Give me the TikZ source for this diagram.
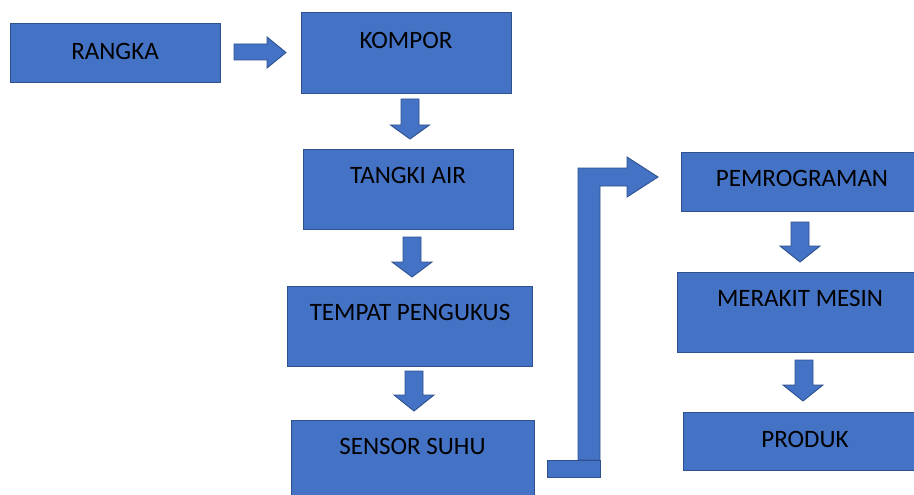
\documentclass[tikz,border=0pt]{standalone}
\usepackage{fontspec}
\setmainfont{Carlito}
\definecolor{boxfill}{HTML}{4472C4}
\definecolor{boxline}{HTML}{2F528F}
\begin{document}
\begin{tikzpicture}[x=1pt,y=-1pt,
  box/.style={draw=boxline,fill=boxfill,line width=0.9pt,rectangle,inner sep=0pt,outer sep=0pt},
  lbl/.style={inner sep=0pt,outer sep=0pt,text=black,font=\fontsize{25}{29}\selectfont},
  blockarrow/.style={draw=boxline,fill=boxfill,line width=0.9pt,line join=miter}]
\useasboundingbox (0,0) rectangle (914,495);
\clip (0,0) rectangle (914,495);
\fill[white] (0,0) rectangle (914,495);
% boxes
\node[box,minimum width=210,minimum height=59] (rangka) at (115,52.5) {};
\node[lbl] (trangka) at (115,51) {RANGKA};
\node[box,minimum width=210,minimum height=81] (kompor) at (406,52.5) {};
\node[lbl] (tkompor) at (406,40) {KOMPOR};
\node[box,minimum width=210,minimum height=80] (tangki) at (408,189) {};
\node[lbl] (ttangki) at (408,175.5) {TANGKI AIR};
\node[box,minimum width=245,minimum height=80] (tempat) at (409.5,326) {};
\node[lbl] (ttempat) at (410,312.5) {TEMPAT PENGUKUS};
\node[box,minimum width=243,minimum height=90] (sensor) at (412.5,465) {};
\node[lbl] (tsensor) at (412.5,446) {SENSOR SUHU};
\node[box,minimum width=250,minimum height=59] (pemrog) at (806,181.5) {};
\node[lbl] (tpemrog) at (802,178) {PEMROGRAMAN};
\node[box,minimum width=254,minimum height=80] (merakit) at (804,312) {};
\node[lbl] (tmerakit) at (800,298) {MERAKIT MESIN};
\node[box,minimum width=248,minimum height=58] (produk) at (807,441) {};
\node[lbl] (tproduk) at (805,439) {PRODUK};
% right arrow RANGKA -> KOMPOR
\draw[blockarrow] (234,44) -- (267,44) -- (267,37) -- (286,52.5) -- (267,68) -- (267,60) -- (234,60) -- cycle;
% down arrows
\draw[blockarrow] (401,99) -- (419,99) -- (419,125) -- (429.5,125) -- (410,139) -- (390.5,125) -- (401,125) -- cycle;
\draw[blockarrow] (403,237) -- (421,237) -- (421,262) -- (432,262) -- (412,277) -- (392,262) -- (403,262) -- cycle;
\draw[blockarrow] (405,371) -- (423,371) -- (423,395) -- (434,395) -- (414,411) -- (394,395) -- (405,395) -- cycle;
\draw[blockarrow] (791,222) -- (809,222) -- (809,246) -- (820,246) -- (800,262) -- (780,246) -- (791,246) -- cycle;
\draw[blockarrow] (795,360) -- (813,360) -- (813,385) -- (823,385) -- (803,401) -- (783,385) -- (795,385) -- cycle;
% bent arrow SENSOR SUHU -> PEMROGRAMAN
\draw[blockarrow] (578,460) -- (578,168) -- (627,168) -- (627,157) -- (658,177) -- (627,197) -- (627,186) -- (600,186) -- (600,460) -- cycle;
\draw[blockarrow] (547,460) rectangle (600,477);
\end{tikzpicture}
\end{document}
